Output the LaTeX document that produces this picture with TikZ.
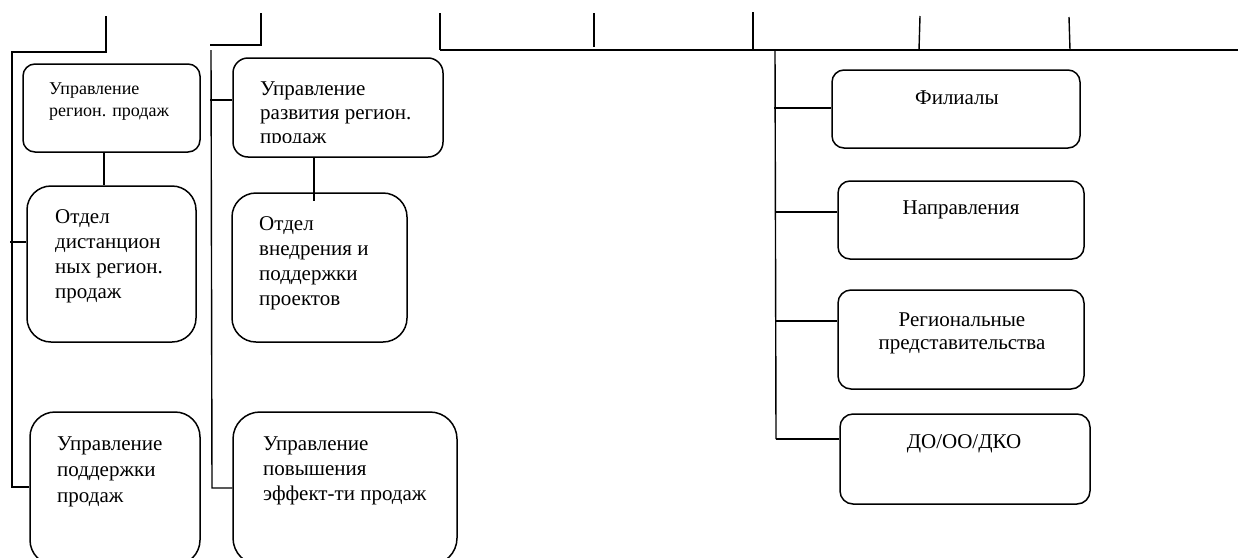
\documentclass[tikz,border=0pt]{standalone}
\usepackage{fontspec}
\setmainfont{Liberation Serif}
\begin{document}
\begin{tikzpicture}[x=1pt,y=-1pt,
  box/.style={draw, line width=1.5pt, inner sep=0pt},
  conn/.style={line width=1.4pt},
  txt/.style={inner sep=0pt, align=left, anchor=north west, font=\fontsize{21}{25}\selectfont},
  rtxt/.style={inner sep=0pt, align=center, anchor=north, font=\fontsize{21}{23}\selectfont}]
\clip (0,0) rectangle (1238,557);
\fill[white] (0,0) rectangle (1238,557);

% boxes
\node[box, rounded corners=12pt, minimum width=177pt, minimum height=88pt] (b1) at (111.5,108) {};
\node[box, rounded corners=24pt, minimum width=169pt, minimum height=156pt] (b2) at (111.5,264) {};
\node[box, rounded corners=25pt, minimum width=170pt, minimum height=153pt] (b3) at (115,488.5) {};
\node[box, rounded corners=15pt, minimum width=210pt, minimum height=99pt] (b4) at (338,107.5) {};
\node[box, rounded corners=24pt, minimum width=175pt, minimum height=149pt] (b5) at (319.5,267.5) {};
\node[box, rounded corners=27pt, minimum width=224pt, minimum height=153pt] (b6) at (345,488.5) {};
\node[box, rounded corners=12pt, minimum width=248pt, minimum height=78pt] (r1) at (956,109) {};
\node[box, rounded corners=12pt, minimum width=246pt, minimum height=78pt] (r2) at (961,220) {};
\node[box, rounded corners=13pt, minimum width=246pt, minimum height=99pt] (r3) at (961,339.5) {};
\node[box, rounded corners=13pt, minimum width=250pt, minimum height=90pt] (r4) at (965,459) {};

% texts
\node[txt, font=\fontsize{18}{22}\selectfont] (t1) at (49,83) {Управление\\регион. продаж};
\node[txt] (t2) at (55,209) {Отдел\\дистанцион\\ных регион.\\продаж};
\node[txt, font=\fontsize{21}{26}\selectfont] (t3) at (57,437) {Управление\\поддержки\\продаж};
\begin{scope}
\clip (233,58) rectangle (443,142);
\node[txt, font=\fontsize{21}{24}\selectfont] (t4) at (260,82) {Управление\\развития регион.\\продаж};
\end{scope}
\node[txt] (t5) at (259,216) {Отдел\\внедрения и\\поддержки\\проектов};
\node[txt] (t6) at (263,437) {Управление\\повышения\\эффект-ти продаж};
\node[rtxt] (s1) at (957,91) {Филиалы};
\node[rtxt] (s2) at (961,201) {Направления};
\node[rtxt] (s3) at (962,313) {Региональные\\представительства};
\node[rtxt] (s4) at (964,434) {ДО/ОО/ДКО};

% left group
\coordinate (a1) at (106,16);
\coordinate (a2) at (106,52);
\coordinate (a3) at (12,52);
\coordinate (a4) at (12,487);
\coordinate (a5) at (10,242);
\draw[conn] (a1) -- (a2) -- (a3) -- (a4) -- (a4 -| b3.west);
\draw[conn] (a5) -- (a5 -| b2.west);
\draw[conn] ([xshift=-7.5pt]b1.south) -- ([xshift=-7.5pt]b1.south |- b2.north);

% second group
\coordinate (m1) at (261,13);
\coordinate (m2) at (261,45);
\coordinate (m3) at (210,45);
\coordinate (m4) at (211,50);
\coordinate (m5) at (212,488);
\coordinate (m6) at (210,100);
\draw[conn] (m1) -- (m2) -- (m3);
\draw[conn] (m4) -- (m5) -- (m5 -| b6.west);
\draw[conn] (m6) -- (m6 -| b4.west);
\coordinate (m7) at (314,201);
\draw[conn] ([xshift=-24pt]b4.south) -- (m7);

% top line and ticks
\coordinate (h0) at (440,50);
\coordinate (h1) at (1238,50);
\draw[conn] (h0) -- (h1);
\coordinate (k1) at (440,13);
\coordinate (k2a) at (594,13);
\coordinate (k2b) at (594,47);
\coordinate (k3a) at (753,12);
\coordinate (k3b) at (753,50);
\coordinate (k4a) at (920,16);
\coordinate (k4b) at (919,50);
\coordinate (k5a) at (1069,17);
\coordinate (k5b) at (1070,50);
\draw[conn] (k1) -- (h0);
\draw[conn] (k2a) -- (k2b);
\draw[conn] (k3a) -- (k3b);
\draw[conn] (k4a) -- (k4b);
\draw[conn] (k5a) -- (k5b);

% right group
\coordinate (v0) at (775,50);
\coordinate (v1) at (776,439);
\draw[conn] (v0) -- (v1);
\coordinate (w1) at (774,108);
\coordinate (w2) at (775,212);
\coordinate (w3) at (775,321);
\coordinate (w4) at (776,439);
\draw[conn] (w1) -- (w1 -| r1.west);
\draw[conn] (w2) -- (w2 -| r2.west);
\draw[conn] (w3) -- (w3 -| r3.west);
\draw[conn] (w4) -- (w4 -| r4.west);
\end{tikzpicture}
\end{document}
